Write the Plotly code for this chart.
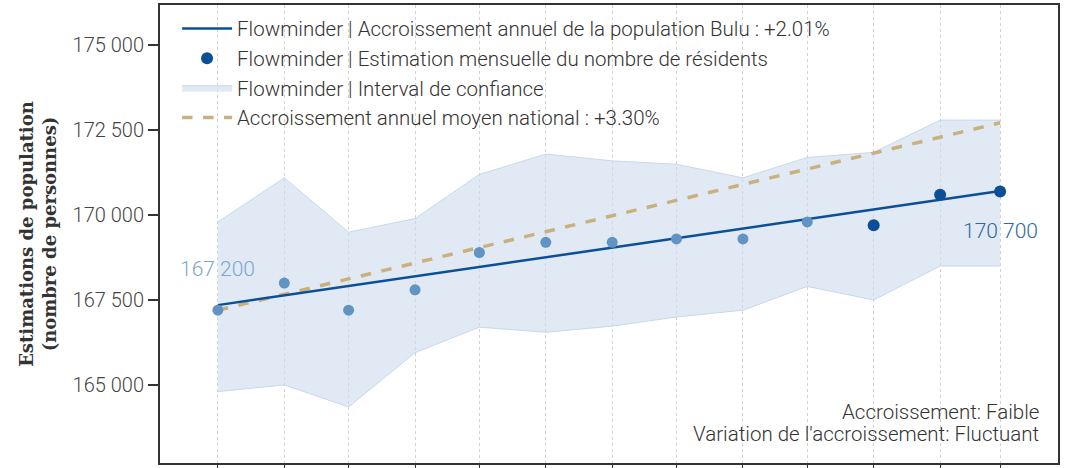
import plotly.graph_objects as go

# ---- data ----
months = ["2021-03-01", "2021-04-01", "2021-05-01", "2021-06-01", "2021-07-01",
          "2021-08-01", "2021-09-01", "2021-10-01", "2021-11-01", "2021-12-01",
          "2022-01-01", "2022-02-01", "2022-03-01"]
estimates = [167200, 168000, 167200, 167800, 168900, 169200, 169200,
             169300, 169300, 169800, 169700, 170600, 170700]
ci_upper = [169800, 171100, 169500, 169900, 171200, 171800, 171600,
            171500, 171100, 171700, 171850, 172800, 172800]
ci_lower = [164800, 165000, 164350, 165950, 166700, 166550, 166730,
            167000, 167200, 167900, 167500, 168500, 168500]
trend_dates = ["2021-03-01", "2022-03-01"]
trend_values = [167350, 170710]
national_values = [167200, 172720]
n_light = 10  # first points drawn lighter

label_first = "167 200"
label_last = "170 700"
legend_names = [
    "Flowminder | Accroissement annuel de la population Bulu : +2.01%",
    "Flowminder | Estimation mensuelle du nombre de résidents",
    "Flowminder | Interval de confiance",
    "Accroissement annuel moyen national : +3.30%",
]
y_title = "Estimations de population<br>(nombre de personnes)"
note_lines = ["Accroissement: Faible", "Variation de l'accroissement: Fluctuant"]

DARK = "#0b4f96"
LIGHT = "#6193c3"
TAN = "#c9b17f"
FILL = "rgba(205,220,236,0.6)"

fig = go.Figure()

# confidence interval
fig.add_trace(go.Scatter(x=months, y=ci_lower, mode="lines",
                         line=dict(color="rgba(190,210,230,0.8)", width=1),
                         showlegend=False, hoverinfo="skip"))
fig.add_trace(go.Scatter(x=months, y=ci_upper, mode="lines", fill="tonexty",
                         fillcolor=FILL,
                         line=dict(color="rgba(190,210,230,0.8)", width=1),
                         name=legend_names[2], legendrank=3))

# national average dashed line
fig.add_trace(go.Scatter(x=trend_dates, y=national_values, mode="lines",
                         line=dict(color=TAN, width=3.5, dash="dash"),
                         name=legend_names[3], legendrank=4))

# trend line
fig.add_trace(go.Scatter(x=trend_dates, y=trend_values, mode="lines",
                         line=dict(color=DARK, width=2.5),
                         name=legend_names[0], legendrank=1))

# monthly estimates
fig.add_trace(go.Scatter(x=months[:n_light], y=estimates[:n_light], mode="markers",
                         marker=dict(color=LIGHT, size=11),
                         showlegend=False))
fig.add_trace(go.Scatter(x=months[n_light:], y=estimates[n_light:], mode="markers",
                         marker=dict(color=DARK, size=12),
                         name=legend_names[1], legendrank=2))

font_main = dict(family="Roboto", size=20.5, color="#333333", weight=300)

fig.add_annotation(x=months[0], y=168400, text=label_first, showarrow=False,
                   font=dict(family="Roboto", size=21, color="#7ea6cd", weight=300))
fig.add_annotation(x=months[-1], y=169540, text=label_last, showarrow=False,
                   font=dict(family="Roboto", size=21, color="#2d68a5", weight=300))
for txt, yy in zip(note_lines, [0.1106, 0.0629]):
    fig.add_annotation(x=0.981, y=yy, xref="paper", yref="paper", xanchor="right",
                       yanchor="middle", align="right", text=txt, showarrow=False,
                       font=dict(family="Roboto", size=20.5, color="#333333", weight=300))
fig.add_annotation(x=-0.136, y=0.5, xref="paper", yref="paper", textangle=-90,
                   text=y_title, showarrow=False, xanchor="center", yanchor="middle",
                   font=dict(family="DejaVu Serif", size=18, color="#333333", weight="bold"))

fig.update_layout(
    width=1071, height=468,
    margin=dict(l=160, r=13, t=5, b=2),
    paper_bgcolor="white", plot_bgcolor="white",
    separators=", ",
    font=font_main,
    legend=dict(x=0.019, y=0.992, xanchor="left", yanchor="top", traceorder="normal",
                itemwidth=50,
                bgcolor="rgba(0,0,0,0)", font=font_main, tracegroupgap=0),
    showlegend=True,
)
fig.update_xaxes(
    type="date", range=["2021-02-02", "2022-03-28"],
    tick0="2021-03-01", dtick="M1", showticklabels=False,
    showgrid=True, gridcolor="#d2d2d2", griddash="dot", gridwidth=1.2,
    ticks="outside", ticklen=3, tickcolor="#333333",
    showline=True, linecolor="#333333", linewidth=2, mirror=True, zeroline=False,
)
fig.update_yaxes(
    range=[162700, 176190], tickvals=[165000, 167500, 170000, 172500, 175000],
    tickformat=",d", showgrid=False, zeroline=False,
    ticks="outside", ticklen=10, tickcolor="#333333", tickwidth=1.5,
    tickfont=dict(family="Roboto", size=20, color="#444444", weight=300),
    showline=True, linecolor="#333333", linewidth=2, mirror=True,
)

fig.write_html("out.html", config={"displayModeBar": False},
               post_script="document.body.style.margin='0';document.body.style.overflow='hidden';")
